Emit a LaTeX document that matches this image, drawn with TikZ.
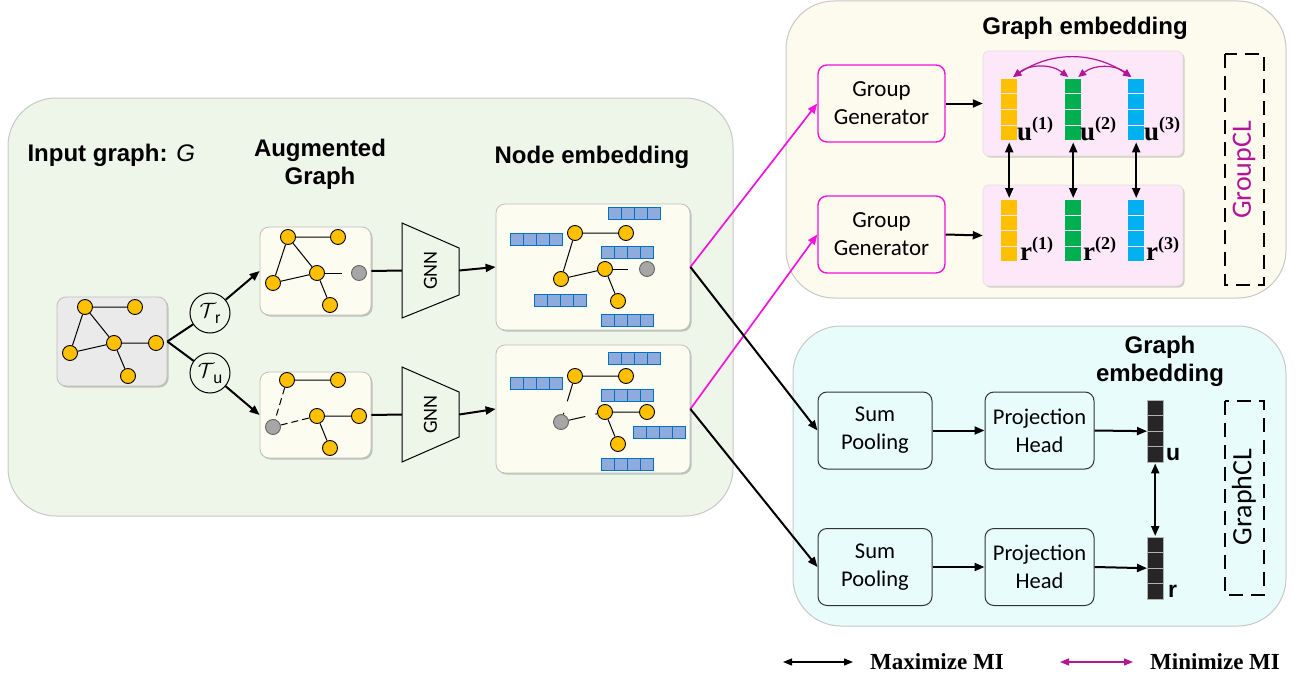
\documentclass[tikz,border=0pt]{standalone}
\usepackage{fontspec}
\setmainfont{Liberation Sans}
\newfontfamily\carl{Carlito}
\newfontfamily\tnr{Liberation Serif}
\usetikzlibrary{arrows.meta,shadows,calc}

\definecolor{pgreen}{RGB}{238,245,233}
\definecolor{pcream}{RGB}{253,251,238}
\definecolor{pcyan}{RGB}{232,252,252}
\definecolor{boxcream}{RGB}{253,252,240}
\definecolor{ingray}{RGB}{234,234,234}
\definecolor{nyellow}{RGB}{255,192,0}
\definecolor{ngray}{RGB}{166,166,166}
\definecolor{barfill}{RGB}{143,170,220}
\definecolor{barline}{RGB}{0,112,192}
\definecolor{pinkbox}{RGB}{252,232,248}
\definecolor{magline}{RGB}{240,20,220}
\definecolor{plum}{RGB}{180,20,150}
\definecolor{cyel}{RGB}{255,192,0}
\definecolor{cgreen}{RGB}{0,176,80}
\definecolor{cblue}{RGB}{0,176,240}
\definecolor{vdark}{RGB}{38,38,38}
\definecolor{pborder}{RGB}{200,200,200}

\newcommand\ebar[2]{\foreach \k in {0,1,2,3}{\draw[barline, fill=barfill, line width=0.8pt] ({#1+13.2*\k},#2) rectangle ({#1+13.2*\k+13.2},{#2+12.5});}}
\newcommand\vcol[4]{%
  \node[minimum width=16pt, minimum height=62pt, inner sep=0pt, anchor=north west] (#1) at (#2,#3) {};
  \foreach \k in {0,1,2,3}{\fill[#4] (#2,{#3+15.5*\k}) rectangle ({#2+16},{#3+15.5*\k+14.5});}}

\begin{document}
\begin{tikzpicture}[x=1pt,y=-1pt,
  panel/.style={draw=pborder, line width=1pt, rounded corners=48pt},
  gbox/.style={draw=black!25, line width=0.8pt, rounded corners=9pt, inner sep=0pt,
     drop shadow={shadow xshift=1.5pt, shadow yshift=-1.5pt, opacity=0.35, fill=black!60}},
  gn/.style={circle, draw, line width=0.9pt, fill=nyellow, minimum size=15pt, inner sep=0pt},
  gg/.style={circle, draw=black!60, line width=0.9pt, fill=ngray, minimum size=15pt, inner sep=0pt},
  ge/.style={line width=1pt},
  title/.style={font=\fontsize{24}{28}\selectfont\bfseries, align=center},
  tbox/.style={draw=black!80, line width=1pt, rounded corners=9pt, minimum width=114pt, minimum height=77pt, align=center, font=\carl\fontsize{22.5}{28}\selectfont, inner sep=0pt},
  ggbox/.style={draw=magline, line width=1.4pt, fill=pcream, rounded corners=9pt, minimum width=127pt, minimum height=77pt, align=center, font=\carl\fontsize{23}{28}\selectfont, inner sep=0pt},
  arr/.style={-{Triangle[length=10pt,width=8pt]}, line width=2pt},
  darr/.style={{Triangle[length=10pt,width=8pt]}-{Triangle[length=10pt,width=8pt]}, line width=2pt},
  marr/.style={-{Triangle[length=10pt,width=8pt]}, line width=1.7pt, magline},
  arc/.style={{Triangle[length=8pt,width=7pt]}-{Triangle[length=8pt,width=7pt]}, line width=1.2pt, plum},
  tcirc/.style={circle, draw, line width=1pt, minimum size=40pt, inner sep=0pt, font=\fontsize{22}{24}\selectfont},
  dashbox/.style={draw, line width=1.4pt, dash pattern=on 14pt off 8pt},
  pinkb/.style={fill=pinkbox, draw=black!12, line width=0.6pt, rounded corners=6pt,
     drop shadow={shadow xshift=1.5pt, shadow yshift=-1.5pt, opacity=0.3, fill=black!60}},
  ulab/.style={anchor=base west, inner sep=0pt, font=\tnr\bfseries\fontsize{27}{30}\selectfont},
  leg/.style={anchor=west, inner sep=0pt, font=\tnr\bfseries\fontsize{23}{28}\selectfont}
]
\useasboundingbox (0,0) rectangle (1299,677);

% ---------- panels
\draw[panel, fill=pgreen] (8,98) rectangle (733,516);
\draw[panel, fill=pcream] (786,1) rectangle (1286,298);
\draw[panel, fill=pcyan] (793,326) rectangle (1286,626);

% ---------- titles left
\node[title, anchor=west] (tin) at (24,155) {Input graph: {\mdseries\itshape G}};
\node[title] (taug) at (320,164) {Augmented\\Graph};
\node[title] (tnode) at (592,157) {Node embedding};

% ---------- input graph
\node[gbox, fill=ingray, minimum width=110pt, minimum height=89pt] (inbox) at (112,341.5) {};
\node[gn] (i1) at (85,307) {};
\node[gn] (i2) at (135,307) {};
\node[gn] (i3) at (114,343) {};
\node[gn] (i4) at (156,343) {};
\node[gn] (i5) at (70,353) {};
\node[gn] (i6) at (128,376) {};
\draw[ge] (i1)--(i2) (i1)--(i5) (i1)--(i3) (i5)--(i3) (i3)--(i4) (i3)--(i6);

% transformations
\node[tcirc] (Tr) at (210,313) {$\mathcal{T}$\kern-1pt\raisebox{-6pt}{\fontsize{16}{16}\selectfont r}};
\node[tcirc] (Tu) at (210,373) {$\mathcal{T}$\kern-1pt\raisebox{-6pt}{\fontsize{16}{16}\selectfont u}};
\draw[line width=2pt] (inbox.east) -- (Tr);
\draw[line width=2pt] (inbox.east) -- (Tu);

% ---------- augmented graphs
\node[gbox, fill=boxcream, minimum width=111pt, minimum height=88pt] (aug1) at (315.5,271) {};
\node[gbox, fill=boxcream, minimum width=111pt, minimum height=86pt] (aug2) at (315.5,415) {};
\draw[arr] (Tr) -- (aug1.west);
\draw[arr] (Tu) -- (aug2.west);

\node[gn] (a1) at (288,237) {};
\node[gn] (a2) at (338,237) {};
\node[gn] (a3) at (317,273) {};
\node[gg] (a4) at (359,273) {};
\node[gn] (a5) at (273,283) {};
\node[gn] (a6) at (330,305) {};
\draw[ge] (a1)--(a2) (a1)--(a5) (a1)--(a3) (a5)--(a3) (a3)--(a6);
\draw[ge] (a3) -- ($(a3)!0.6!(a4)$);

\node[gn] (b1) at (287,380) {};
\node[gn] (b2) at (338,380) {};
\node[gn] (b3) at (317,416) {};
\node[gn] (b4) at (359,416) {};
\node[gg] (b5) at (273,427) {};
\node[gn] (b6) at (330,448) {};
\draw[ge] (b1)--(b2) (b3)--(b4) (b3)--(b6);
\draw[ge, dash pattern=on 7pt off 4pt] (b1)--(b5) (b5)--(b3);

% ---------- GNNs
\node[minimum width=57pt, minimum height=95pt, inner sep=0pt] (gnn1) at (430.5,270.5) {};
\node[minimum width=57pt, minimum height=95pt, inner sep=0pt] (gnn2) at (430.5,414.5) {};
\draw[line width=1pt, fill=pgreen] (402,223)--(459,248)--(459,295)--(402,318)--cycle;
\draw[line width=1pt, fill=pgreen] (402,367)--(459,392)--(459,437)--(402,462)--cycle;
\node[rotate=90, font=\carl\fontsize{20}{24}\selectfont] (gnn1t) at (430.5,270.5) {GNN};
\node[rotate=90, font=\carl\fontsize{20}{24}\selectfont] (gnn2t) at (430.5,414.5) {GNN};
\draw[line width=2pt] (aug1.east) -- (gnn1.west);
\draw[line width=2pt] (aug2.east) -- (gnn2.west);

% ---------- node embedding boxes
\node[gbox, fill=boxcream, minimum width=194pt, minimum height=126pt] (emb1) at (593,267) {};
\node[gbox, fill=boxcream, minimum width=194pt, minimum height=128pt] (emb2) at (593,409) {};
\draw[arr] (gnn1.east) -- (emb1.west);
\draw[arr] (gnn2.east) -- (emb2.west);

\ebar{608}{207} \ebar{510}{233} \ebar{601}{246} \ebar{534}{294} \ebar{601}{314}
\node[gn] (e1) at (575,233) {};
\node[gn] (e2) at (626,233) {};
\node[gn] (e3) at (605,269) {};
\node[gg] (e4) at (647,269) {};
\node[gn] (e5) at (561,279) {};
\node[gn] (e6) at (618,301) {};
\draw[ge] (e1)--(e2) (e1)--(e5) (e5)--(e3) (e3)--(e6);
\draw[ge] (e3) -- ($(e3)!0.55!(e4)$);

\ebar{608}{352} \ebar{510}{377} \ebar{601}{389} \ebar{633}{426} \ebar{601}{458}
\node[gn] (f1) at (575,376) {};
\node[gn] (f2) at (626,376) {};
\node[gn] (f3) at (605,412) {};
\node[gn] (f4) at (647,412) {};
\node[gg] (f5) at (561,422) {};
\node[gn] (f6) at (618,444) {};
\draw[ge] (f1)--(f2) (f3)--(f4) (f3)--(f6);
\draw[ge] (f1) -- ($(f1)!0.55!(f5)$) ($(f1)!0.8!(f5)$) -- (f5);
\draw[ge] (f5) -- ($(f5)!0.55!(f3)$) ($(f5)!0.78!(f3)$) -- (f3);

% ---------- GroupCL panel
\node[title] (tge1) at (1085,28) {Graph embedding};
\node[ggbox] (gg1) at (881.5,103.5) {Group\\Generator};
\node[ggbox] (gg2) at (881.5,234.5) {Group\\Generator};
\draw[pinkb] (983,51) rectangle (1183,156);
\draw[pinkb] (983,185) rectangle (1183,286);
\node[minimum width=200pt, minimum height=105pt, inner sep=0pt] (pu) at (1083,103.5) {};
\node[minimum width=200pt, minimum height=101pt, inner sep=0pt] (pr) at (1083,235.5) {};
\draw[arr] (gg1.east) -- (pu.west);
\draw[arr] (gg2.east) -- (pr.west);

\vcol{uy}{1001}{79}{cyel}
\vcol{ug}{1065}{79}{cgreen}
\vcol{ub}{1128}{79}{cblue}
\vcol{ry}{1001}{200}{cyel}
\vcol{rg}{1065}{200}{cgreen}
\vcol{rb}{1128}{200}{cblue}

\node[ulab] (lu1) at (1017,140) {u\raisebox{11pt}{\fontsize{18}{18}\selectfont(1)}};
\node[ulab] (lu2) at (1080,140) {u\raisebox{11pt}{\fontsize{18}{18}\selectfont(2)}};
\node[ulab] (lu3) at (1144,140) {u\raisebox{11pt}{\fontsize{18}{18}\selectfont(3)}};
\node[ulab] (lr1) at (1020,260) {r\raisebox{11pt}{\fontsize{18}{18}\selectfont(1)}};
\node[ulab] (lr2) at (1083,260) {r\raisebox{11pt}{\fontsize{18}{18}\selectfont(2)}};
\node[ulab] (lr3) at (1146,260) {r\raisebox{11pt}{\fontsize{18}{18}\selectfont(3)}};

\draw[darr] ([yshift=-1pt]uy.south) -- ([yshift=2pt]ry.north);
\draw[darr] ([yshift=-1pt]ug.south) -- ([yshift=2pt]rg.north);
\draw[darr] ([yshift=-1pt]ub.south) -- ([yshift=2pt]rb.north);

\draw[arc] ([xshift=4pt,yshift=2pt]uy.north) to[bend left=38] ([xshift=-5pt,yshift=2pt]ug.north);
\draw[arc] ([xshift=5pt,yshift=2pt]ug.north) to[bend left=38] ([xshift=-5pt,yshift=2pt]ub.north);
\draw[arc] ([xshift=4pt,yshift=2pt]uy.north) to[bend left=34] ([xshift=-5pt,yshift=2pt]ub.north);

\draw[dashbox] (1225,54) rectangle (1264,285);
\node[rotate=90, text=plum, font=\carl\fontsize{28}{30}\selectfont] (tgcl) at (1244,170) {GroupCL};

% ---------- GraphCL panel
\node[title] (tge2) at (1160,361) {Graph\\embedding};
\node[tbox] (sp1) at (875,430.5) {Sum\\Pooling};
\node[tbox] (sp2) at (875,567) {Sum\\Pooling};
\node[tbox, minimum width=109pt] (ph1) at (1039.5,430.5) {Projection\\Head};
\node[tbox, minimum width=109pt] (ph2) at (1039.5,567) {Projection\\Head};
\draw[arr] (sp1.east) -- (ph1.west);
\draw[arr] (sp2.east) -- (ph2.west);

\node[minimum width=16pt, minimum height=62pt, inner sep=0pt, anchor=north west] (vu) at (1147,400) {};
\node[minimum width=16pt, minimum height=62pt, inner sep=0pt, anchor=north west] (vr) at (1147,537) {};
\foreach \k in {0,1,2,3}{
  \draw[fill=vdark, draw=black!30, line width=0.6pt] (1147,{400+15.5*\k}) rectangle (1163,{400+15.5*\k+15.5});
  \draw[fill=vdark, draw=black!30, line width=0.6pt] (1147,{537+15.5*\k}) rectangle (1163,{537+15.5*\k+15.5});
}
\node[anchor=base west, inner sep=0pt, font=\fontsize{23}{26}\selectfont\bfseries] (lu) at (1166,460) {u};
\node[anchor=base west, inner sep=0pt, font=\fontsize{23}{26}\selectfont\bfseries] (lr) at (1168,597) {r};
\draw[arr] (ph1.east) -- (vu.west);
\draw[arr] (ph2.east) -- (vr.west);
\draw[darr] ([yshift=-1pt]vu.south) -- ([yshift=1pt]vr.north);

\draw[dashbox] (1225,401) rectangle (1264,595);
\node[rotate=90, font=\carl\fontsize{28}{30}\selectfont] (tgrcl) at (1244,497) {GraphCL};

% ---------- cross connectors
\draw[marr] (emb1.east) -- (gg1.west);
\draw[marr] (emb2.east) -- (gg2.west);
\draw[arr] (emb1.east) -- (sp1.west);
\draw[arr] (emb2.east) -- (sp2.west);

% ---------- legend
\coordinate (l1a) at (783,662);
\coordinate (l1b) at (853,662);
\coordinate (l2a) at (1060,662);
\coordinate (l2b) at (1133,662);
\draw[{Triangle[length=9pt,width=7pt]}-{Triangle[length=9pt,width=7pt]}, line width=1.3pt] (l1a) -- (l1b);
\draw[{Triangle[length=9pt,width=7pt]}-{Triangle[length=9pt,width=7pt]}, line width=1.3pt, plum] (l2a) -- (l2b);
\node[leg] (lmax) at (870,662) {Maximize MI};
\node[leg] (lmin) at (1150,662) {Minimize MI};
\end{tikzpicture}
\end{document}
